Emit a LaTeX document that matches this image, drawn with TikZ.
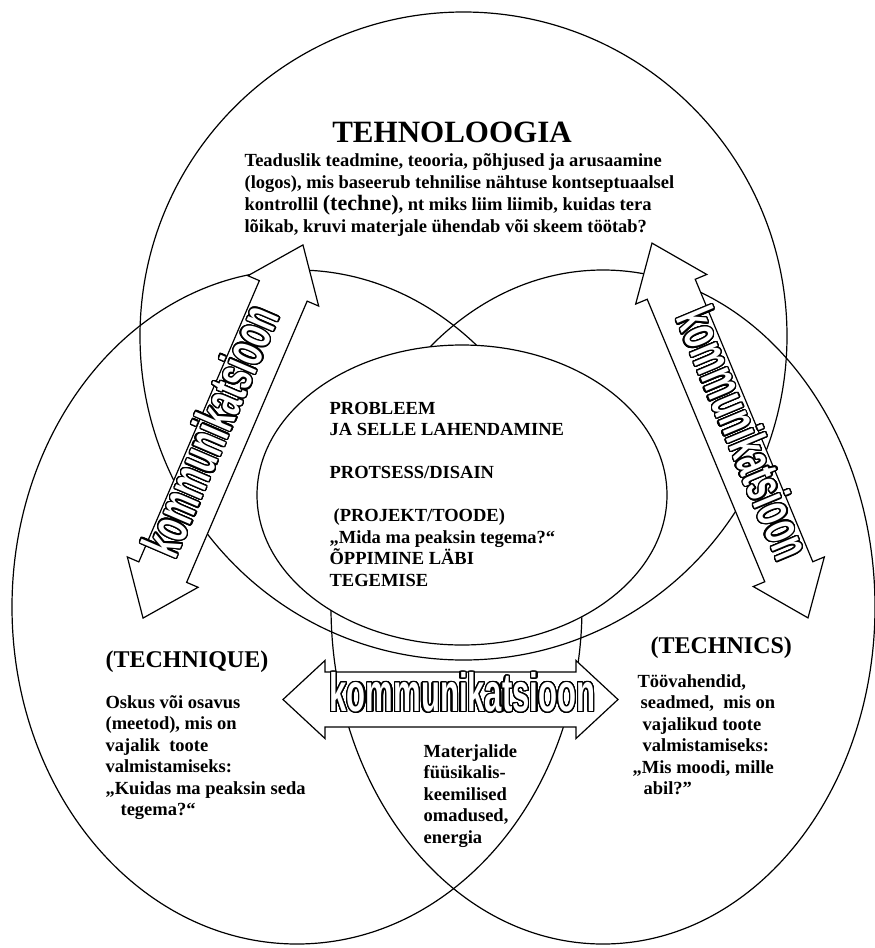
\documentclass[tikz,border=0pt]{standalone}
\usepackage{fontspec}
\setmainfont{Liberation Serif Bold}
\newfontfamily\arrowfont{Liberation Sans Bold}[FakeStretch=0.575]
\usepackage{contour}
\contournumber{32}

% hollow lettering used inside the block arrows
\newcommand\hollowword[1]{{\arrowfont\fontsize{54}{54}\selectfont\contourlength{1.3pt}\contour{black}{\textcolor{white}{#1}}}}

% double-headed block arrow along the x axis:
% #1 half length, #2 half shaft width, #3 half head width, #4 head length
\newcommand\dblblockarrow[4]{
  (-#1,0) -- (-#1+#4,-#3) -- (-#1+#4,-#2) -- (#1-#4,-#2) -- (#1-#4,-#3) -- (#1,0)
  -- (#1-#4,#3) -- (#1-#4,#2) -- (-#1+#4,#2) -- (-#1+#4,#3) -- cycle}

\begin{document}
\begin{tikzpicture}[x=1pt,y=-1pt,line width=1.2pt,
  ring/.style={draw=black},
  hub/.style={draw=black,fill=white},
  blockarrow/.style={draw=black,fill=white,line join=miter},
  body/.style={font=\fontsize{18.5}{21.5}\selectfont,align=left,inner sep=0pt,anchor=base west},
  heading/.style={font=\fontsize{24}{24}\selectfont,inner sep=0pt,anchor=base west},
  word/.style={inner sep=0pt,anchor=base,transform shape}
]
\useasboundingbox (0,0) rectangle (875,948);

% the two lower circles: technique and technics
\draw[ring] (297,607) ellipse [x radius=285, y radius=337];
\draw[ring] (603,607) ellipse [x radius=272, y radius=337];
% the upper circle: technology
\draw[ring] (463.5,336) ellipse [x radius=323.5, y radius=324];
% the central core
\draw[hub] (462,495) ellipse [x radius=205, y radius=150];

% texts (multi-line nodes are placed by the baseline of their last line)
\node[font=\fontsize{31}{31}\selectfont,inner sep=0pt,anchor=base] (tehn) at (452,142) {TEHNOLOOGIA};
\node[body,font=\fontsize{18.5}{22}\selectfont] (tehntext) at (244,232)
  {Teaduslik teadmine, teooria, põhjused ja arusaamine\\
   (logos), mis baseerub tehnilise nähtuse kontseptuaalsel\\
   kontrollil {\fontsize{22}{22}\selectfont(techne)}, nt miks liim liimib, kuidas tera\\
   lõikab, kruvi materjale ühendab või skeem töötab?};

\node[body] (core) at (329,586)
  {PROBLEEM\\
   JA SELLE LAHENDAMINE\\[21.5pt]
   PROTSESS/DISAIN\\[21.5pt]
   \hspace*{4pt}(PROJEKT/TOODE)\\
   „Mida ma peaksin tegema?“\\
   ÕPPIMINE LÄBI\\
   TEGEMISE};

\node[heading] (techniquehead) at (105,667) {(TECHNIQUE)};
\node[body] (techniquetext) at (105,815.5)
  {Oskus või osavus\\
   (meetod), mis on\\
   vajalik\ \ toote\\
   valmistamiseks:\\
   „Kuidas ma peaksin seda\\
   \hspace*{15pt}tegema?“};

\node[heading] (technicshead) at (650,653) {(TECHNICS)};
\node[body] (technicstext) at (632,794.5)
  {\hspace*{5pt}Töövahendid,\\
   \hspace*{8pt}seadmed,\ \ mis on\\
   \hspace*{10pt}vajalikud toote\\
   \hspace*{10pt}valmistamiseks:\\
   „Mis moodi, mille\\
   \hspace*{11pt}abil?”};

\node[body] (materials) at (423,843)
  {Materjalide\\
   füüsikalis-\\
   keemilised\\
   omadused,\\
   energia};

% communication arrows
\begin{scope}[shift={(223,431.5)},rotate=66.8]
  \draw[blockarrow] \dblblockarrow{203}{26}{38.5}{50};
  \node[word] (commleft) at (-4,7) {\hollowword{kommunikatsioon}};
\end{scope}
\begin{scope}[shift={(730,430.5)},rotate=-67.4]
  \draw[blockarrow] \dblblockarrow{203}{26}{38.5}{50};
  \node[word] (commright) at (8,7) {\hollowword{kommunikatsioon}};
\end{scope}
\begin{scope}[shift={(450.5,699.5)}]
  \draw[blockarrow] \dblblockarrow{167.5}{27.5}{39}{42};
  \node[word] (commmid) at (12,12) {\hollowword{kommunikatsioon}};
\end{scope}
\end{tikzpicture}
\end{document}
